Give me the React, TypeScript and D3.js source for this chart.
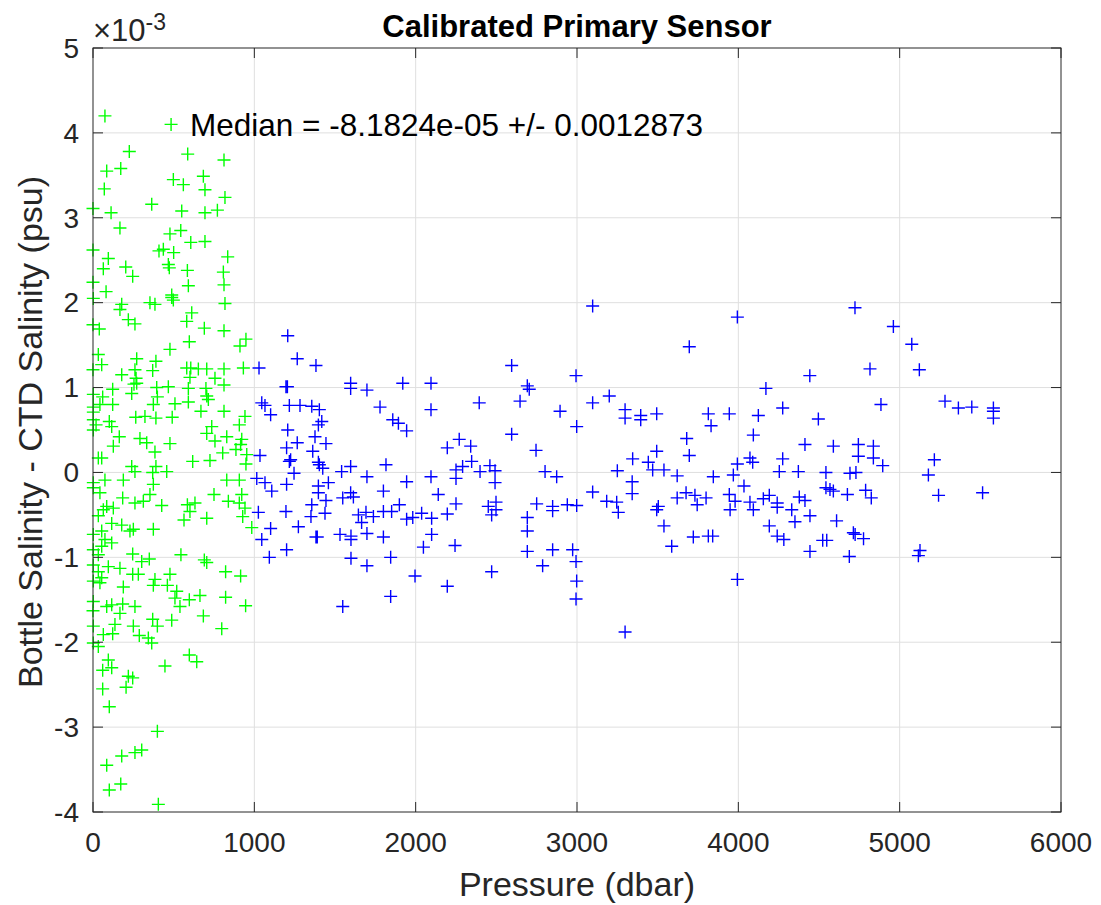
import React from "react";
import * as d3 from "d3";

// Values in units of 1e-3 psu (axis shows ×10^-3)
const greenP: number[] = [74,484,225,587,812,85,172,498,560,684,694,70,818,0,112,364,550,694,771,167,477,544,606,694,0,95,409,436,500,835,64,203,246,467,473,585,808,0,81,591,812,488,2,
488,178,167,353,384,498,818,612,581,219,260,0,39,690,812,597,477,948,911,33,54,0,271,390,260,370,581,606,653,705,812,932,178,267,601,756,271,254,395,467,591,812,122,700,240,2,60,399,705,715,122,43,374,508,591,2,2,669,812,265,322,390,491,942,2,101,19,116,2,907,736,705,163,291,829,922,756,333,477,126,915,886,384,804,953,33,54,618,725,948,457,260,370,240,390,188,74,2,829,907,374,
2,353,43,184,260,312,426,585,632,750,839,922,907,942,85,126,64,601,705,564,928,33,116,178,250,374,229,984,54,2,74,116,54,2,33,246,545,690,705,349,302,2,95,167,33,246,281,477,822,915,54,384,2,43,374,461,188,519,508,663,597,822,2,116,85,184,260,539,946,0,167,684,370,488,399,136,250,2,798,122,64,287,343,2,33,364,597,
643,446,95,116,60,219,246,205,60,101,399,302,260,178,85,172,101,405];
const greenS: number[] = [4.20,4.10,3.78,3.75,3.68,3.55,3.58,3.45,3.39,3.49,3.33,3.34,3.24,3.11,3.06,3.16,3.08,3.06,3.09,2.88,2.81,2.85,2.71,2.72,2.62,2.52,2.61,2.63,2.59,2.54,2.40,2.42,2.31,2.45,2.41,2.38,2.36,2.24,2.13,2.20,2.21,2.09,2.05,
2.06,1.98,1.92,2.00,1.98,2.03,1.99,1.88,1.78,1.80,1.75,1.74,1.69,1.70,1.67,1.54,1.45,1.57,1.49,1.39,1.27,1.21,1.34,1.31,1.21,1.20,1.23,1.23,1.22,1.22,1.22,1.23,1.15,1.11,1.12,1.11,1.05,1.04,1.00,1.01,0.99,1.03,0.98,0.99,0.93,0.92,0.89,0.89,0.90,0.86,0.80,0.80,0.80,0.81,0.83,0.77,0.71,0.72,0.72,0.65,0.66,0.64,0.65,0.66,0.62,0.60,0.56,0.54,0.50,0.56,0.54,0.46,0.42,0.40,0.42,0.39,0.37,0.35,0.34,0.31,0.33,0.27,0.24,0.23,0.21,0.17,0.17,0.13,0.14,0.10,0.01,0.01,0.00,0.07,0.07,-0.09,-0.09,-0.12,-0.09,-0.09,-0.14,
-0.18,-0.26,-0.24,-0.30,-0.36,-0.34,-0.39,-0.38,-0.36,-0.26,-0.34,-0.26,-0.36,-0.42,-0.40,-0.42,-0.44,-0.46,-0.54,-0.56,-0.52,-0.51,-0.60,-0.62,-0.67,-0.67,-0.69,-0.65,-0.69,-0.73,-0.79,-0.83,-0.87,-0.91,-0.97,-0.96,-0.97,-1.03,-1.06,-1.02,-1.05,-1.09,-1.11,-1.13,-1.17,-1.20,-1.20,-1.20,-1.17,-1.22,-1.24,-1.26,-1.28,-1.30,-1.33,-1.33,-1.35,-1.40,-1.48,-1.45,-1.50,-1.47,-1.52,-1.56,-1.58,-1.55,-1.58,-1.58,-1.57,-1.63,-1.66,-1.69,-1.73,-1.74,-1.81,-1.79,-1.81,-1.81,-1.84,-1.90,-1.91,-1.92,-1.95,-2.01,-2.05,-2.01,-2.15,
-2.23,-2.28,-2.21,-2.30,-2.33,-2.40,-2.42,-2.53,-2.55,-2.76,-3.05,-3.27,-3.30,-3.34,-3.45,-3.67,-3.74,-3.91];

const blueP: number[] = [1029,1046,1035,1207,1266,1382,1196,1205,1597,1597,1698,1920,2095,2095,1066,1101,1217,1283,1356,1403,1779,1858,1893,1944,1418,1397,1207,1376,1266,1444,1362,1200,1217,1225,1397,1424,1597,1816,1541,1246,1015,1698,2095,
1403,1066,1108,1200,1397,1459,1944,2140,1397,1444,1597,1614,1548,1800,1356,1025,1196,1438,1351,1645,1692,1738,1800,1851,1899,1944,1982,2037,2099,1665,1101,1273,1046,1382,1390,1531,1599,1599,1698,1800,2099,2048,1200,1093,1599,1845,1698,1996,1845,1548,
3097,2595,2994,2692,2704,2394,2647,2895,3097,3200,3298,3298,3395,3395,2998,2595,2746,2270,2196,2341,2347,2291,2250,2460,2492,2399,2802,2874,3250,3345,3442,
2250,2492,3342,3342,3097,3184,3246,3256,2250,2450,2498,2498,2471,2750,2849,2849,2940,2998,2692,2196,2692,2244,2692,2849,2973,2994,2787,2471,2196,2998,2994,3298,
3994,3696,4723,4443,4171,3494,3814,3831,3944,4124,4275,4496,3680,4093,3494,3696,3994,4072,4089,4275,4413,4589,4744,4744,3469,3539,3621,3845,3969,4254,4372,4543,4692,4729,
4035,4543,4568,4589,4676,3676,3621,3731,3745,3800,3944,3980,3949,4072,4093,4155,4192,4241,4241,4331,4378,4413,4444,4351,4609,3504,3494,3539,3721,3814,3841,4192,4241,4282,3587,4444,4523,4548,4713,4688,3994,
4961,5075,4816,5122,4884,5281,5364,5447,5581,5581,5581,4837,4837,4895,5215,5178,
4789,4824,5241,5514,4724,4776,5126,5116];
const blueS: number[] = [1.23,0.82,0.20,1.61,1.34,1.26,1.01,1.01,1.05,0.99,0.97,1.05,1.05,0.74,0.79,0.68,0.79,0.79,0.78,0.74,0.77,0.62,0.58,0.49,0.60,0.56,0.50,0.42,0.35,0.34,0.25,0.29,0.13,0.15,0.12,0.05,0.07,0.09,0.01,-0.01,-0.07,-0.05,-0.05,
0.09,-0.12,-0.22,-0.14,-0.16,-0.12,-0.11,-0.26,-0.24,-0.33,-0.24,-0.29,-0.30,-0.22,-0.38,-0.47,-0.46,-0.48,-0.52,-0.50,-0.47,-0.52,-0.46,-0.46,-0.38,-0.55,-0.53,-0.48,-0.54,-0.59,-0.66,-0.64,-0.79,-0.76,-0.76,-0.73,-0.75,-0.79,-0.72,-0.76,-0.73,-0.88,-0.91,-1.00,-1.01,-1.00,-1.10,-1.22,-1.46,-1.58,
1.96,1.26,1.14,1.02,0.98,0.82,0.84,0.72,0.82,0.90,0.74,0.64,0.67,0.62,0.54,0.45,0.26,0.39,0.29,0.31,0.13,0.07,0.03,0.08,0.02,0.01,0.01,-0.05,0.02,0.16,0.12,
-0.07,-0.12,-0.11,-0.25,-0.23,-0.34,-0.35,-0.47,-0.37,-0.40,-0.35,-0.44,-0.50,-0.37,-0.40,-0.45,-0.38,-0.39,-0.53,-0.49,-0.69,-0.86,-0.93,-0.91,-0.91,-1.05,-1.10,-1.17,-1.34,-1.28,-1.49,-1.88,
1.83,1.48,1.94,1.14,0.99,0.69,0.69,0.55,0.69,0.67,0.76,0.63,0.40,0.44,0.25,0.20,0.10,0.17,0.12,0.16,0.33,0.31,0.33,0.19,0.03,0.03,-0.04,-0.05,-0.03,0.01,0.01,0.00,-0.01,0.00,
-0.16,-0.18,-0.20,-0.22,-0.26,-0.24,-0.30,-0.27,-0.38,-0.30,-0.26,-0.34,-0.44,-0.35,-0.44,-0.31,-0.27,-0.36,-0.41,-0.44,-0.29,-0.33,-0.51,-0.58,-0.57,-0.40,-0.44,-0.63,-0.76,-0.75,-0.75,-0.63,-0.75,-0.79,-0.87,-0.93,-0.80,-0.80,-0.71,-0.99,-1.26,
1.72,1.51,1.22,1.21,0.80,0.84,0.76,0.77,0.76,0.72,0.64,0.31,0.17,0.08,0.15,-0.03,
-0.21,-0.30,-0.27,-0.24,-0.73,-0.78,-0.92,-0.98];

const xTicks: number[] = [0, 1000, 2000, 3000, 4000, 5000, 6000];
const yTicks: number[] = [-4, -3, -2, -1, 0, 1, 2, 3, 4, 5];
const titleText = "Calibrated Primary Sensor";
const xLabel = "Pressure (dbar)";
const yLabel = "Bottle Salinity - CTD Salinity (psu)";
const medianText = "Median = -8.1824e-05 +/- 0.0012873";

const W = 1101, H = 905;
const L = 93, R = 1061, T = 48, B = 812;
const FONT = "'Liberation Sans', Arial, Helvetica, sans-serif";
const AX = "#262626";

export default function App() {
  const x = d3.scaleLinear().domain([0, 6000]).range([L, R]);
  const y = d3.scaleLinear().domain([-4, 5]).range([B, T]);
  const m = 6.5;
  const plus = (px: number, py: number) => `M${px - m},${py}H${px + m}M${px},${py - m}V${py + m}`;
  const greenPath = greenP.map((p, i) => plus(x(p), y(greenS[i]))).join("");
  const bluePath = blueP.map((p, i) => plus(x(p), y(blueS[i]))).join("");
  const tk = 10;
  return (
    <svg width={W} height={H} style={{ position: "absolute", left: 0, top: 0, background: "#fff" }} fontFamily={FONT}>
      <rect x={0} y={0} width={W} height={H} fill="#fff" />
      {/* grid */}
      {xTicks.slice(1, -1).map((t) => (
        <line key={"gx" + t} x1={x(t)} x2={x(t)} y1={T} y2={B} stroke="#dfdfdf" strokeWidth={1} />
      ))}
      {yTicks.slice(1, -1).map((t) => (
        <line key={"gy" + t} x1={L} x2={R} y1={y(t)} y2={y(t)} stroke="#dfdfdf" strokeWidth={1} />
      ))}
      {/* data */}
      <path d={greenPath} stroke="#00ff00" strokeWidth={1.4} fill="none" />
      <path d={bluePath} stroke="#0000ff" strokeWidth={1.4} fill="none" />
      {/* box */}
      <rect x={L} y={T} width={R - L} height={B - T} fill="none" stroke={AX} strokeWidth={1} />
      {xTicks.map((t) => (
        <g key={"xt" + t}>
          <line x1={x(t)} x2={x(t)} y1={B} y2={B - tk} stroke={AX} />
          <line x1={x(t)} x2={x(t)} y1={T} y2={T + tk} stroke={AX} />
          <text x={x(t)} y={B + 40} textAnchor="middle" fontSize={28} fill={AX}>{t}</text>
        </g>
      ))}
      {yTicks.map((t) => (
        <g key={"yt" + t}>
          <line x1={L} x2={L + tk} y1={y(t)} y2={y(t)} stroke={AX} />
          <line x1={R} x2={R - tk} y1={y(t)} y2={y(t)} stroke={AX} />
          <text x={L - 14} y={y(t)} dy="0.35em" textAnchor="end" fontSize={28} fill={AX}>{t}</text>
        </g>
      ))}
      {/* exponent */}
      <text x={L} y={41} fontSize={31} fill={AX}>
        ×10<tspan fontSize={23} dy={-11}>-3</tspan>
      </text>
      {/* title */}
      <text x={(L + R) / 2} y={37} textAnchor="middle" fontSize={31} fontWeight="bold" fill="#000">{titleText}</text>
      {/* labels */}
      <text x={(L + R) / 2} y={896} textAnchor="middle" fontSize={34} fill={AX}>{xLabel}</text>
      <text transform={`translate(42,${(T + B) / 2 + 2}) rotate(-90)`} textAnchor="middle" fontSize={34} fill={AX}>{yLabel}</text>
      {/* annotation */}
      <text x={190} y={136} fontSize={31.5} fill="#000">{medianText}</text>
    </svg>
  );
}
